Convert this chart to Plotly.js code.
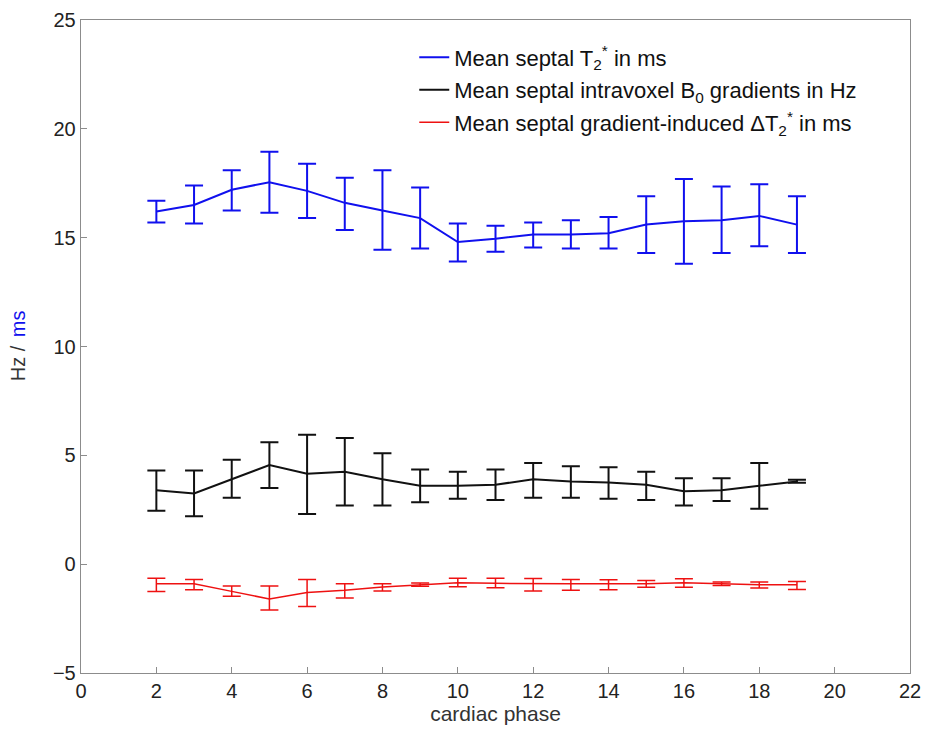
<!DOCTYPE html>
<html>
<head>
<meta charset="utf-8">
<script src="https://cdn.plot.ly/plotly-3.0.1.min.js"></script>
<style>html,body{margin:0;padding:0;background:#fff;}#chart{width:926px;height:731px;}</style>
</head>
<body>
<div id="chart"></div>
<script>
const phases = [2,3,4,5,6,7,8,9,10,11,12,13,14,15,16,17,18,19];

const t2Mean  = [16.2,16.5,17.2,17.55,17.15,16.6,16.25,15.9,14.8,14.95,15.15,15.15,15.2,15.6,15.75,15.8,16.0,15.6];
const t2Upper = [16.7,17.4,18.1,18.95,18.4,17.75,18.1,17.3,15.65,15.55,15.7,15.8,15.95,16.9,17.7,17.35,17.45,16.9];
const t2Lower = [15.7,15.65,16.25,16.15,15.9,15.35,14.45,14.5,13.9,14.35,14.55,14.5,14.5,14.3,13.8,14.3,14.6,14.3];

const b0Mean  = [3.4,3.25,3.9,4.55,4.15,4.25,3.9,3.6,3.6,3.65,3.9,3.8,3.75,3.65,3.35,3.4,3.6,3.8];
const b0Upper = [4.3,4.3,4.8,5.6,5.95,5.8,5.1,4.35,4.25,4.35,4.65,4.5,4.45,4.25,3.95,3.95,4.65,3.88];
const b0Lower = [2.45,2.2,3.05,3.5,2.3,2.7,2.7,2.85,3.0,2.95,3.05,3.05,3.0,2.95,2.7,2.9,2.55,3.74];

const dtMean  = [-0.9,-0.9,-1.25,-1.6,-1.3,-1.2,-1.05,-0.95,-0.85,-0.88,-0.9,-0.9,-0.9,-0.9,-0.85,-0.9,-0.95,-0.95];
const dtUpper = [-0.65,-0.7,-1.0,-1.0,-0.7,-0.9,-0.9,-0.87,-0.65,-0.65,-0.66,-0.7,-0.72,-0.75,-0.67,-0.82,-0.82,-0.8];
const dtLower = [-1.25,-1.17,-1.47,-2.1,-1.95,-1.55,-1.23,-1.02,-1.04,-1.08,-1.23,-1.2,-1.17,-1.06,-1.06,-0.98,-1.1,-1.16];

const legendNames = [
  'Mean septal T<sub>2</sub><sup>*</sup> in ms',
  'Mean septal intravoxel B<sub>0</sub> gradients in Hz',
  'Mean septal gradient-induced \u0394T<sub>2</sub><sup>*</sup> in ms'
];
const xTicks = [0,2,4,6,8,10,12,14,16,18,20,22];
const yTicks = [-5,0,5,10,15,20,25];
const yTitleParts = ['Hz /', 'ms'];

function diff(a, b) { return a.map((v, i) => Math.abs(v - b[i])); }

function series(mean, upper, lower, name, color, width, group) {
  return {
    x: phases, y: mean, name: name, type: 'scatter', mode: 'lines',
    legendgroup: group,
    line: {color: color, width: width},
    error_y: {type: 'data', symmetric: false,
      array: diff(upper, mean), arrayminus: diff(mean, lower),
      color: color, thickness: width, width: 9}
  };
}

const data = [
  series(t2Mean, t2Upper, t2Lower, legendNames[0], '#1010ee', 2, 'a'),
  series(b0Mean, b0Upper, b0Lower, legendNames[1], '#111111', 2, 'b'),
  series(dtMean, dtUpper, dtLower, legendNames[2], '#ee1111', 1.5, 'c')
];

const FONT = 'Liberation Sans, Arial, sans-serif';

const axisCommon = {
  showgrid: false, zeroline: false, showline: true, mirror: true,
  linecolor: '#8c8c8c', linewidth: 1.3,
  ticks: 'inside', ticklen: 6, tickcolor: '#8c8c8c', tickwidth: 1,
  tickfont: {family: FONT, size: 20, color: '#222'}
};

const layout = {
  width: 926, height: 731,
  margin: {l: 81, r: 16, t: 20, b: 58},
  paper_bgcolor: '#fff', plot_bgcolor: '#fff',
  showlegend: true,
  legend: {x: 0.402, y: 0.975, xanchor: 'left', yanchor: 'top',
    bgcolor: 'rgba(0,0,0,0)', borderwidth: 0,
    traceorder: 'grouped', tracegroupgap: 1,
    font: {family: FONT, size: 22, color: '#111'}},
  xaxis: Object.assign({}, axisCommon, {
    range: [0, 22], tickvals: xTicks, ticktext: xTicks.map(String),
    title: {text: 'cardiac phase', standoff: 5,
      font: {family: FONT, size: 21, color: '#333'}}
  }),
  yaxis: Object.assign({}, axisCommon, {
    range: [-5, 25], tickvals: yTicks, ticktext: yTicks.map(v => v < 0 ? '\u2212' + Math.abs(v) : String(v))
  }),
  annotations: [
    {text: yTitleParts[0], xref: 'paper', yref: 'paper', x: -0.076, y: 0.505,
     xanchor: 'center', yanchor: 'top', textangle: -90, showarrow: false,
     font: {family: FONT, size: 20, color: '#333333'}},
    {text: yTitleParts[1], xref: 'paper', yref: 'paper', x: -0.076, y: 0.512,
     xanchor: 'center', yanchor: 'bottom', textangle: -90, showarrow: false,
     font: {family: FONT, size: 20, color: '#1010ee'}}
  ]
};

Plotly.newPlot('chart', data, layout, {displayModeBar: false, staticPlot: true});
</script>
</body>
</html>
